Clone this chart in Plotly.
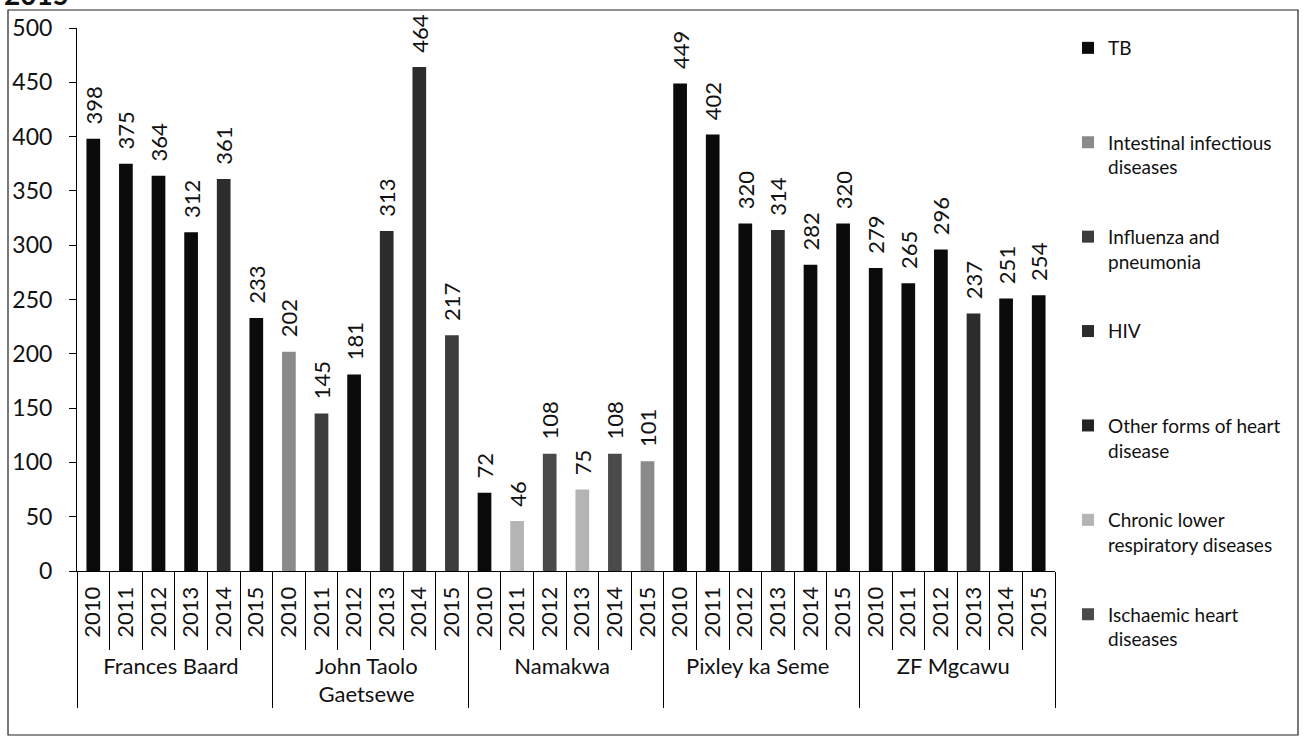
import plotly.graph_objects as go

# Leading natural cause of death per district, 2010-2015
districts = ["Frances Baard", "John Taolo<br>Gaetsewe", "Namakwa", "Pixley ka Seme", "ZF Mgcawu"]
years = ["2010", "2011", "2012", "2013", "2014", "2015"]

frances_baard = [398, 375, 364, 312, 361, 233]
john_taolo_gaetsewe = [202, 145, 181, 313, 464, 217]
namakwa = [72, 46, 108, 75, 108, 101]
pixley_ka_seme = [449, 402, 320, 314, 282, 320]
zf_mgcawu = [279, 265, 296, 237, 251, 254]

frances_baard_cause = ["TB", "TB", "TB", "TB", "HIV", "TB"]
john_taolo_gaetsewe_cause = ["Intestinal", "Influenza", "TB", "HIV", "HIV", "Influenza"]
namakwa_cause = ["TB", "Chronic", "Ischaemic", "Chronic", "Ischaemic", "Intestinal"]
pixley_ka_seme_cause = ["TB", "TB", "TB", "HIV", "TB", "TB"]
zf_mgcawu_cause = ["TB", "TB", "TB", "HIV", "TB", "TB"]

causes = ["TB", "Intestinal", "Influenza", "HIV", "Other", "Chronic", "Ischaemic"]
cause_labels = [
    "TB<br> ",
    "Intestinal infectious<br>diseases",
    "Influenza and<br>pneumonia",
    "HIV<br> ",
    "Other forms of heart<br>disease",
    "Chronic lower<br>respiratory diseases",
    "Ischaemic heart<br>diseases",
]
cause_colors = ["#0b0b0b", "#8a8a8a", "#3c3c3c", "#2c2c2c", "#222222", "#b4b4b4", "#4a4a4a"]

values = [frances_baard, john_taolo_gaetsewe, namakwa, pixley_ka_seme, zf_mgcawu]
cause_by_bar = [frances_baard_cause, john_taolo_gaetsewe_cause, namakwa_cause,
                pixley_ka_seme_cause, zf_mgcawu_cause]

x_outer, x_inner, all_vals, all_causes = [], [], [], []
for d, vals, cs in zip(districts, values, cause_by_bar):
    for yr, v, c in zip(years, vals, cs):
        x_outer.append(d)
        x_inner.append(yr)
        all_vals.append(v)
        all_causes.append(c)

FONT = "Lato, 'Open Sans', sans-serif"
PAD = "\u00a0\u00a0"  # small gap between bar end and its value label

fig = go.Figure()
for cause, label, color in zip(causes, cause_labels, cause_colors):
    ys = [v if c == cause else None for v, c in zip(all_vals, all_causes)]
    texts = [PAD + str(v) if c == cause else "" for v, c in zip(all_vals, all_causes)]
    fig.add_trace(go.Bar(
        x=[x_outer, x_inner],
        y=ys,
        name=label,
        legendgroup=cause,
        marker=dict(color=color, line=dict(width=0)),
        text=texts,
        textposition="outside",
        textangle=-90,
        constraintext="none",
        textfont=dict(family=FONT, size=22, color="#111111"),
        cliponaxis=False,
        width=0.42,
    ))

W, H = 1303, 742
L, R, T, B = 77, 248, 28, 171
pw, ph = W - L - R, H - T - B


def px_x(p):
    return (p - L) / pw


def px_y(p):
    return (H - B - p) / ph


fig.update_layout(
    width=W, height=H,
    margin=dict(l=L, r=R, t=T, b=B, autoexpand=False),
    paper_bgcolor="white",
    plot_bgcolor="white",
    barmode="overlay",
    font=dict(family=FONT, size=22, color="#111111"),
    showlegend=True,
    legend=dict(
        xref="container", yref="container",
        x=1068 / W, y=1 - 29 / H, xanchor="left", yanchor="top",
        traceorder="grouped", tracegroupgap=42, valign="top",
        font=dict(family=FONT, size=19, color="#111111"),
        itemwidth=30, maxheight=720,
    ),
)

fig.update_yaxes(
    range=[0, 500], dtick=50, showgrid=False, zeroline=False,
    showline=True, linecolor="black", linewidth=1,
    ticks="outside", ticklen=7, tickcolor="black",
    ticklabelstandoff=12,
    tickfont=dict(family=FONT, size=23, color="#111111"),
)
fig.update_xaxes(
    type="multicategory",
    showgrid=False, showline=True, linecolor="black", linewidth=1,
    ticks="outside", ticklen=78, tickcolor="black", tickson="boundaries",
    tickangle=-90, ticklabelstandoff=6,
    tickfont=dict(family=FONT, size=22, color="#111111"),
    showdividers=True, dividercolor="black", dividerwidth=1,
)

# outer frame around the whole chart
fig.add_shape(type="rect", xref="paper", yref="paper",
              x0=px_x(8), x1=px_x(1298), y0=px_y(735), y1=px_y(10),
              line=dict(color="#222222", width=1.2), fillcolor="rgba(0,0,0,0)",
              layer="below")

# heading that runs off the top edge
fig.add_annotation(text="<b>2015</b>", xref="paper", yref="paper",
                   x=px_x(2), y=px_y(-6), xanchor="left", yanchor="middle",
                   showarrow=False, font=dict(family=FONT, size=28, color="#111111"))

fig.write_html("out.html")
